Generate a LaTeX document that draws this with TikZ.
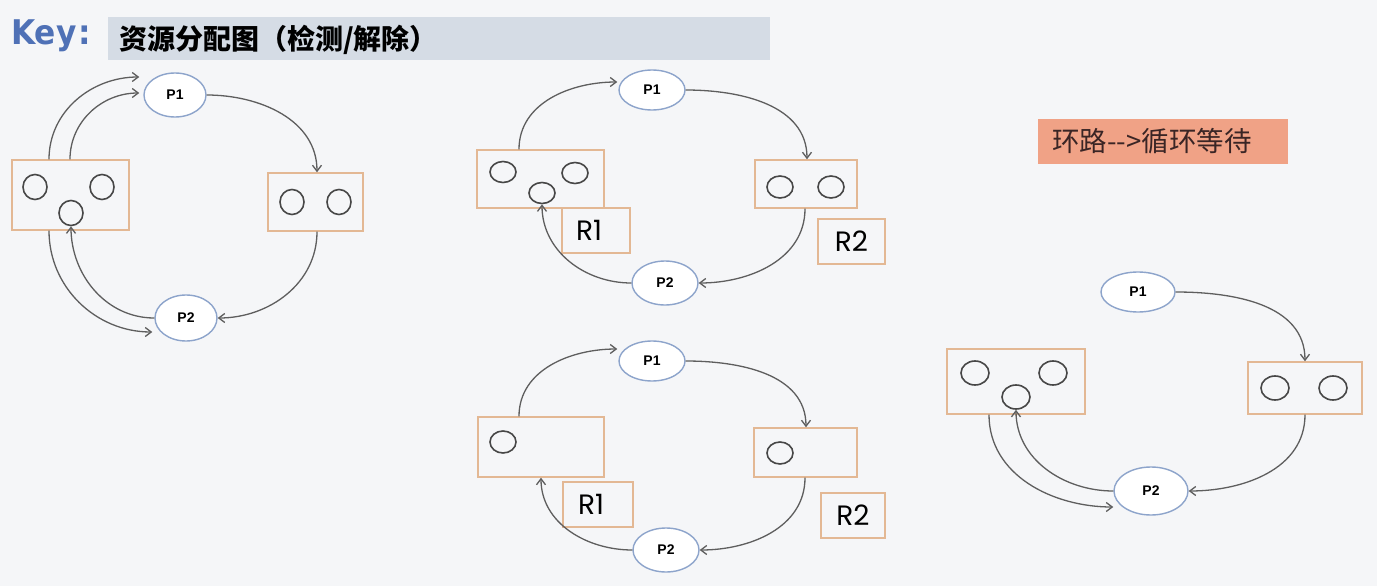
\documentclass[tikz,border=0pt]{standalone}
\usepackage{fontspec}
\setmainfont{Liberation Sans}
\newfontfamily\cjk{Noto Sans CJK SC}
\newfontfamily\rfont{Poppins}
\newfontfamily\keyfont[FakeStretch=0.92]{DejaVu Sans}
\usetikzlibrary{shapes.geometric,arrows.meta}
\definecolor{bg}{HTML}{F5F6F8}
\definecolor{barc}{HTML}{D5DCE5}
\definecolor{keyc}{HTML}{4F71B6}
\definecolor{ellc}{HTML}{8DA4CB}
\definecolor{boxc}{HTML}{E3B894}
\definecolor{dotc}{HTML}{474747}
\definecolor{arrc}{HTML}{5E5E5E}
\definecolor{salmon}{HTML}{F0A286}
\definecolor{labtext}{HTML}{3A2525}
\begin{document}
\begin{tikzpicture}[x=1pt,y=1pt,
  proc/.style={ellipse,draw=ellc,line width=1.4pt,fill=white,inner sep=0pt,font=\bfseries\fontsize{14}{14}\selectfont},
  res/.style={rectangle,draw=boxc,line width=1.4pt,inner sep=0pt},
  dot/.style={ellipse,draw=dotc,line width=1.6pt,inner sep=0pt},
  lab/.style={rectangle,draw=boxc,line width=1.4pt,fill=bg,inner sep=0pt,font=\rfont\fontsize{28}{28}\selectfont},
  conn/.style={draw=arrc,line width=1.3pt,-{Straight Barb[length=6pt,width=9pt]}}]
\useasboundingbox[fill=bg] (0,0) rectangle (1377,-586);
% header
\node[fill=barc,minimum width=662,minimum height=43,anchor=north west,inner sep=0] (bar) at (108,-17) {};
\node[anchor=base west,inner sep=0,font=\cjk\bfseries\fontsize{28}{28}\selectfont] (title) at (119,-50) {资源分配图（检测/解除）};
\node[anchor=base west,inner sep=0,text=keyc,font=\keyfont\bfseries\fontsize{34}{34}\selectfont] (key) at (11,-45) {Key\hspace{2pt}:};
% label
\node[fill=salmon,minimum width=250,minimum height=45,inner sep=0,text=labtext,font=\cjk\fontsize{27.5}{27.5}\selectfont] (loop) at (1163,-141.5) {\hspace*{-22pt}环路-{}-{}>循环等待};

% ===== diagram 1 =====
\node[res,minimum width=117,minimum height=70] (a-l) at (70.5,-195) {};
\node[res,minimum width=95,minimum height=58] (a-r) at (315.5,-202) {};
\node[dot,minimum width=24,minimum height=25] (a-c1) at (35,-187) {};
\node[dot,minimum width=24,minimum height=25] (a-c2) at (102,-187) {};
\node[dot,minimum width=24,minimum height=25] (a-c3) at (71,-213) {};
\node[dot,minimum width=24,minimum height=25] (a-c4) at (292,-202) {};
\node[dot,minimum width=24,minimum height=25] (a-c5) at (339,-202) {};
\node[proc,minimum width=62,minimum height=44] (a-p1) at (175,-95) {P1};
\node[proc,minimum width=62,minimum height=46] (a-p2) at (186,-318) {P2};
\draw[conn] ([xshift=-21.5]a-l.north) to[out=90,in=180] ([shift={(-4,18)}]a-p1.west);
\draw[conn] ([xshift=-0.5]a-l.north) to[out=90,in=180] ([shift={(-4,2)}]a-p1.west);
\draw[conn] (a-p1.east) to[out=0,in=90] ([xshift=1.5]a-r.north);
\draw[conn] ([xshift=1.5]a-r.south) to[out=-90,in=0] (a-p2.east);
\draw[conn] (a-p2.west) to[out=180,in=-90] (a-c3.south);
\draw[conn] ([xshift=-21.5]a-l.south) to[out=-90,in=180] ([shift={(-2,-14)}]a-p2.west);

% ===== diagram 2 =====
\node[res,minimum width=127,minimum height=58] (b-l) at (540.5,-179) {};
\node[lab,minimum width=68,minimum height=45] (b-r1) at (596,-230.5) {\hspace*{-14pt}R1};
\node[res,minimum width=102,minimum height=48] (b-r) at (806,-184) {};
\node[lab,minimum width=67,minimum height=45] (b-r2) at (851.5,-241.5) {R2};
\node[dot,minimum width=26,minimum height=21] (b-c1) at (503,-172) {};
\node[dot,minimum width=26,minimum height=21] (b-c2) at (575,-173) {};
\node[dot,minimum width=26,minimum height=21] (b-c3) at (542,-193) {};
\node[dot,minimum width=26,minimum height=22] (b-c4) at (780,-187) {};
\node[dot,minimum width=26,minimum height=22] (b-c5) at (831,-187) {};
\node[proc,minimum width=66,minimum height=40] (b-p1) at (652,-90) {P1};
\node[proc,minimum width=66,minimum height=44] (b-p2) at (665,-283) {P2};
\draw[conn] ([xshift=-21.5]b-l.north) to[out=90,in=180] ([shift={(-1,8)}]b-p1.west);
\draw[conn] (b-p1.east) to[out=0,in=90] ([xshift=1]b-r.north);
\draw[conn] ([xshift=-1]b-r.south) to[out=-90,in=0] (b-p2.east);
\draw[conn] (b-p2.west) to[out=180,in=-90] (b-c3.south);

% ===== diagram 3 =====
\node[res,minimum width=126,minimum height=60] (c-l) at (541,-447) {};
\node[lab,minimum width=70,minimum height=45] (c-r1) at (598,-504.5) {\hspace*{-14pt}R1};
\node[res,minimum width=103,minimum height=49] (c-r) at (805.5,-452.5) {};
\node[lab,minimum width=64,minimum height=45] (c-r2) at (853,-515.5) {R2};
\node[dot,minimum width=26,minimum height=22] (c-c1) at (503,-442) {};
\node[dot,minimum width=26,minimum height=22] (c-c2) at (780,-453) {};
\node[proc,minimum width=66,minimum height=40] (c-p1) at (652,-361) {P1};
\node[proc,minimum width=66,minimum height=44] (c-p2) at (666,-550) {P2};
\draw[conn] ([xshift=-22]c-l.north) to[out=90,in=180] ([shift={(-1,12)}]c-p1.west);
\draw[conn] (c-p1.east) to[out=0,in=90] ([xshift=0.5]c-r.north);
\draw[conn] ([xshift=-0.5]c-r.south) to[out=-90,in=0] (c-p2.east);
\draw[conn] (c-p2.west) to[out=180,in=-90] (c-l.south);

% ===== diagram 4 =====
\node[res,minimum width=138,minimum height=65] (d-l) at (1016,-381.5) {};
\node[res,minimum width=114,minimum height=52] (d-r) at (1305,-388) {};
\node[dot,minimum width=28,minimum height=24] (d-c1) at (975,-373) {};
\node[dot,minimum width=28,minimum height=24] (d-c2) at (1053,-373) {};
\node[dot,minimum width=28,minimum height=24] (d-c3) at (1016,-397) {};
\node[dot,minimum width=28,minimum height=24] (d-c4) at (1275,-388) {};
\node[dot,minimum width=28,minimum height=24] (d-c5) at (1333,-388) {};
\node[proc,minimum width=74,minimum height=40] (d-p1) at (1138,-292) {P1};
\node[proc,minimum width=74,minimum height=48] (d-p2) at (1151,-491) {P2};
\draw[conn] (d-p1.east) to[out=0,in=90] (d-r.north);
\draw[conn] (d-r.south) to[out=-90,in=0] (d-p2.east);
\draw[conn] (d-p2.west) to[out=180,in=-90] (d-c3.south);
\draw[conn] ([xshift=-27]d-l.south) to[out=-90,in=180] ([shift={(0,-16)}]d-p2.west);
\end{tikzpicture}
\end{document}
